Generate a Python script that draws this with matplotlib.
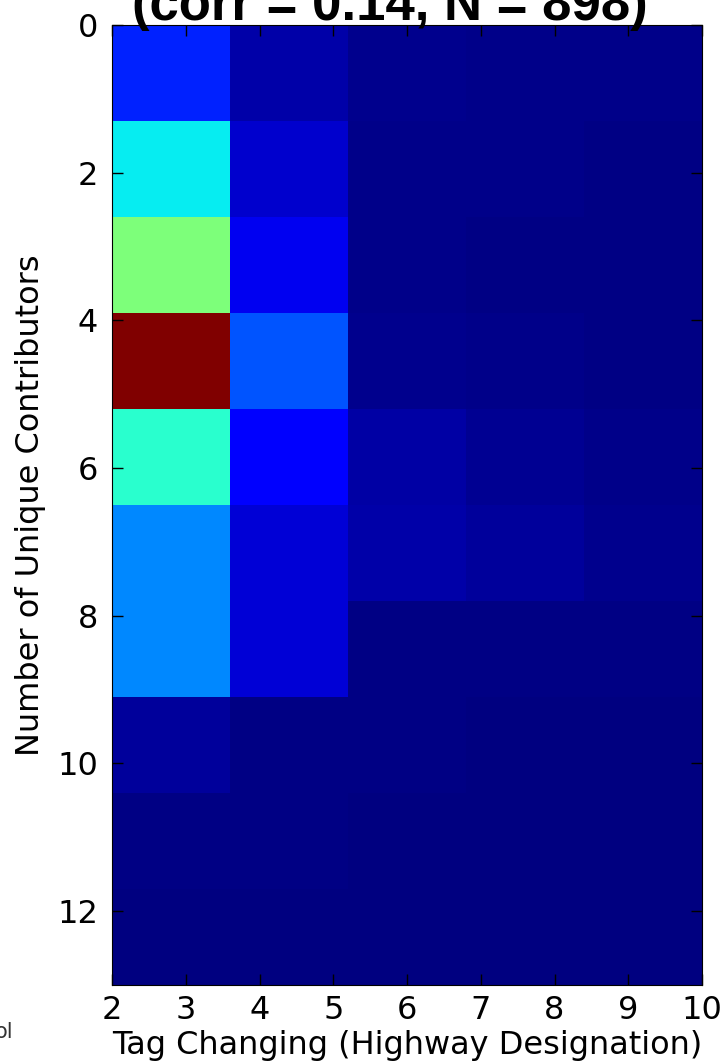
import numpy as np
import matplotlib.pyplot as plt

plt.rcParams['font.family'] = 'DejaVu Sans'

# 2D histogram counts: rows = unique contributors bins (0..13, 10 bins),
# columns = tag changing bins (2..10, 5 bins)
counts = np.array([
    [35, 8, 3, 2, 2],
    [80, 15, 2, 2, 1],
    [112, 22, 2, 1, 1],
    [224, 47, 3, 2, 1],
    [90, 26, 7, 4, 2],
    [58, 17, 8, 6, 3],
    [58, 17, 1, 1, 1],
    [6, 1, 1, 0, 0],
    [1, 1, 0, 0, 0],
    [0, 0, 0, 0, 0],
])
x_range = (2, 10)
y_range = (0, 13)
x_ticks = [2, 3, 4, 5, 6, 7, 8, 9, 10]
y_ticks = [0, 2, 4, 6, 8, 10, 12]
title = '(corr = 0.14, N = 898)'

x_edges = np.linspace(x_range[0], x_range[1], counts.shape[1] + 1)
y_edges = np.linspace(y_range[0], y_range[1], counts.shape[0] + 1)

fig = plt.figure(figsize=(7.22, 10.63), dpi=100)
ax = fig.add_axes([112 / 722, 1 - 985 / 1063, 590 / 722, 960 / 1063])
ax.pcolormesh(x_edges, y_edges, counts, cmap='jet', shading='flat')
ax.set_xlim(*x_range)
ax.set_ylim(y_range[1], y_range[0])

ax.set_xticks(x_ticks)
ax.set_yticks(y_ticks)
ax.tick_params(direction='in', top=True, right=True, length=8, width=1,
               labelsize=23)
ax.tick_params(axis='y', pad=10)
ax.tick_params(axis='x', pad=7)

ax.set_xlabel('Tag Changing (Highway Designation)', fontsize=23, labelpad=3)
ax.set_ylabel('Number of Unique Contributors', fontsize=23, labelpad=8)

# title, cut off at the top of the image as in the original
fig.text(0.54, 1 - 20 / 1063, title, ha='center', va='baseline',
         fontsize=38, fontweight='bold', family='Liberation Sans')
# fragment of neighbouring text at the lower left edge
fig.text(13 / 722, 1 - 1038 / 1063, 'ol', ha='right', va='baseline',
         fontsize=15, color='#333333')

fig.savefig('out.png', dpi=100)
